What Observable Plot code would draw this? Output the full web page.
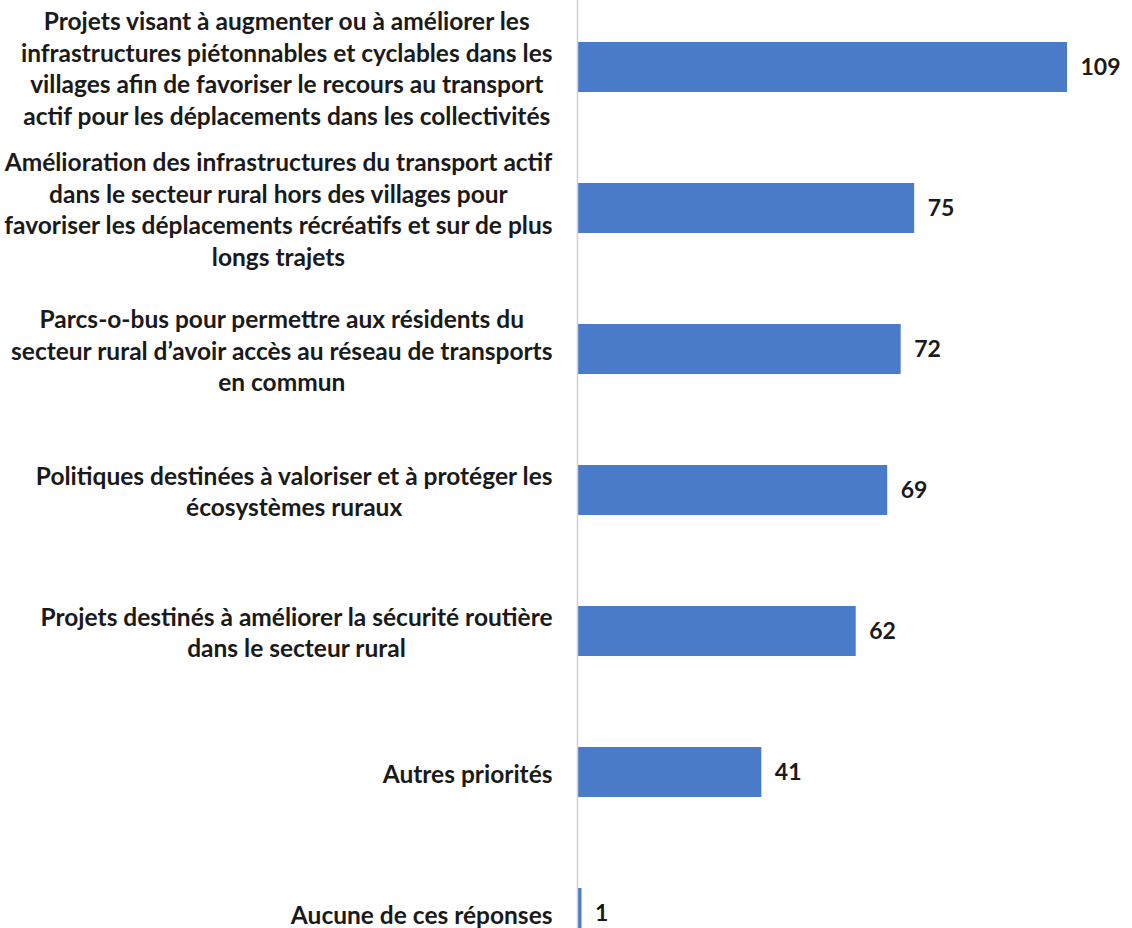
<!DOCTYPE html>
<html>
<head>
<meta charset="utf-8">
<script src="https://cdn.jsdelivr.net/npm/d3@7"></script>
<script src="https://cdn.jsdelivr.net/npm/@observablehq/plot@0.6"></script>
<style>
  html, body { margin: 0; padding: 0; background: #fff; overflow: hidden; }
  #chart svg { display: block; }
</style>
</head>
<body>
<div id="chart"></div>
<script>
const categories = [
  "Projets visant à augmenter ou à améliorer les\ninfrastructures piétonnables et cyclables dans les\nvillages afin de favoriser le recours au transport\nactif pour les déplacements dans les collectivités",
  "Amélioration des infrastructures du transport actif\ndans le secteur rural hors des villages pour\nfavoriser les déplacements récréatifs et sur de plus\nlongs trajets",
  "Parcs-o-bus pour permettre aux résidents du\nsecteur rural d’avoir accès au réseau de transports\nen commun",
  "Politiques destinées à valoriser et à protéger les\nécosystèmes ruraux",
  "Projets destinés à améliorer la sécurité routière\ndans le secteur rural",
  "Autres priorités",
  "Aucune de ces réponses"
];
const values = [109, 75, 72, 69, 62, 41, 1];

const data = categories.map((c, i) => ({category: c, value: values[i]}));

const FONT = "Lato, 'Open Sans', sans-serif";

const chart = Plot.plot({
  width: 1132,
  height: 928,
  marginTop: 0, marginBottom: 0, marginLeft: 0, marginRight: 0,
  style: {fontFamily: FONT, background: "#fff", overflow: "visible"},
  x: {domain: [0, 109], range: [577, 1067], axis: null},
  y: {domain: categories, range: [0, 981], paddingInner: 0.645, paddingOuter: 0.3, axis: null},
  marks: [
    Plot.barX(data, {y: "category", x: "value", fill: "#4a7bc8"}),
    Plot.ruleX([0], {stroke: "#d0d0d0", strokeWidth: 1.5}),
    Plot.text(data, {
      y: "category", x: "value", text: d => String(d.value),
      textAnchor: "start", dx: 13, fontSize: 23, fontWeight: "bold", fill: "#1a1a1a"
    }),
    Plot.text(data, {
      y: "category", x: 0, text: "category",
      textAnchor: "end", dx: -25, fontSize: 24.5, fontWeight: "bold", fill: "#1a1a1a",
      lineHeight: 1.29
    })
  ]
});

document.getElementById("chart").appendChild(chart);

// centre the lines of each multi-line label within its right-aligned block
chart.querySelectorAll("text").forEach(t => {
  const spans = t.querySelectorAll("tspan");
  if (spans.length < 2) return;
  let maxW = 0;
  spans.forEach(s => { maxW = Math.max(maxW, s.getComputedTextLength()); });
  t.style.textAnchor = "middle";
  spans.forEach(s => {
    s.setAttribute("x", String(-maxW / 2));
    s.style.textAnchor = "middle";
  });
});
</script>
</body>
</html>
